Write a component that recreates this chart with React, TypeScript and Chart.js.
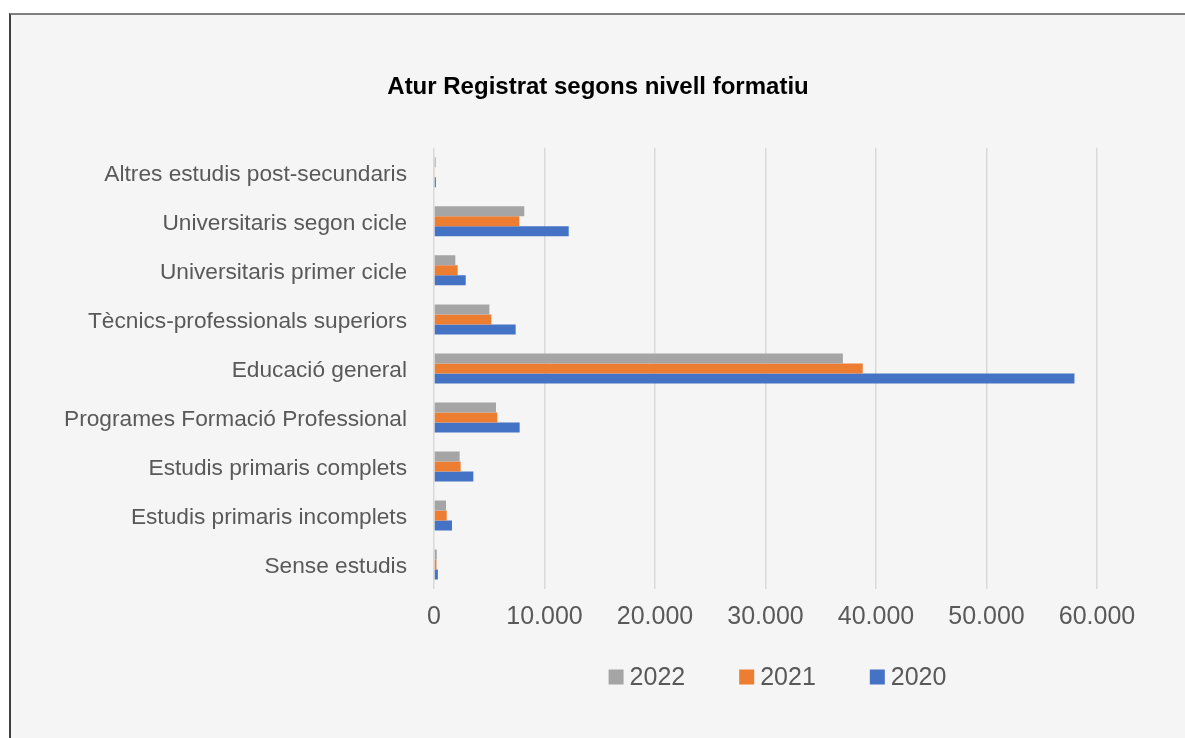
import React, { useEffect, useRef } from "react";
import { Chart, registerables } from "chart.js";

Chart.register(...registerables);

const categories = [
  "Altres estudis post-secundaris",
  "Universitaris segon cicle",
  "Universitaris primer cicle",
  "Tècnics-professionals superiors",
  "Educació general",
  "Programes Formació Professional",
  "Estudis primaris complets",
  "Estudis primaris incomplets",
  "Sense estudis",
];

const values2022 = [150, 8170, 1930, 5010, 37000, 5610, 2320, 1090, 250];
const values2021 = [60, 7720, 2140, 5190, 38800, 5730, 2410, 1150, 220];
const values2020 = [170, 12190, 2870, 7390, 57960, 7750, 3560, 1630, 350];

const seriesLabels = ["2022", "2021", "2020"];
const seriesColors = ["#A5A5A5", "#ED7D31", "#4472C4"];

const xMin = 0;
const xMax = 60000;
const xStep = 10000;

const TEXT = "#595959";
const FONT = '"Liberation Sans", Arial, Helvetica, sans-serif';

function formatThousands(v: number): string {
  return String(Math.round(v)).replace(/\B(?=(\d{3})+(?!\d))/g, ".");
}

const legendPlugin = {
  id: "customLegend",
  afterDraw(chart: any) {
    const ctx = chart.ctx as CanvasRenderingContext2D;
    const area = chart.chartArea;
    const datasets = chart.data.datasets;
    const box = 15;
    const textGap = 6;
    const itemGap = 54;
    ctx.save();
    ctx.font = `25px ${FONT}`;
    ctx.textBaseline = "middle";
    ctx.textAlign = "left";
    const widths = datasets.map((d: any) => box + textGap + ctx.measureText(d.label).width);
    const total = widths.reduce((a: number, b: number) => a + b, 0) + itemGap * (datasets.length - 1);
    const cx = (area.left + area.right) / 2 + 12;
    const cy = area.bottom + 88;
    let x = cx - total / 2;
    datasets.forEach((d: any, i: number) => {
      ctx.fillStyle = d.backgroundColor;
      ctx.fillRect(x, cy - box / 2, box, box);
      ctx.fillStyle = TEXT;
      ctx.fillText(d.label, x + box + textGap, cy + 1);
      x += widths[i] + itemGap;
    });
    ctx.restore();
  },
};

export default function App() {
  const canvasRef = useRef<HTMLCanvasElement | null>(null);

  useEffect(() => {
    if (!canvasRef.current) return;
    const seriesValues = [values2022, values2021, values2020];
    const chart = new Chart(canvasRef.current, {
      type: "bar",
      data: {
        labels: categories,
        datasets: seriesLabels.map((label, i) => ({
          label,
          data: seriesValues[i],
          backgroundColor: seriesColors[i],
          borderWidth: 0,
          barPercentage: 1,
          categoryPercentage: 0.612,
        })),
      },
      options: {
        indexAxis: "y",
        responsive: false,
        devicePixelRatio: 1,
        animation: false,
        layout: { padding: { left: 44, right: 44, top: 0, bottom: 93 } },
        plugins: {
          legend: { display: false },
          tooltip: { enabled: false },
          title: {
            display: true,
            text: "Atur Registrat segons nivell formatiu",
            color: "#000000",
            font: { family: FONT, size: 24, weight: "bold" },
            padding: { top: 58, bottom: 46 },
          },
        },
        scales: {
          x: {
            min: xMin,
            max: xMax,
            border: { display: false },
            grid: { color: "#D9D9D9", lineWidth: 1.5, drawTicks: false },
            ticks: {
              stepSize: xStep,
              padding: 13,
              color: TEXT,
              font: { family: FONT, size: 25 },
              callback: (v: any) => formatThousands(Number(v)),
            },
          },
          y: {
            border: { display: false },
            grid: { display: false, drawTicks: false },
            ticks: {
              padding: 27,
              labelOffset: 2,
              color: TEXT,
              font: { family: FONT, size: 22.7 },
            },
            afterFit: (scale: any) => {
              scale.width = 379;
            },
          },
          ySpacer: {
            type: "linear",
            position: "right",
            display: true,
            border: { display: false },
            grid: { display: false, drawTicks: false },
            ticks: { display: false },
            afterFit: (scale: any) => {
              scale.width = 44;
            },
          },
        },
      },
      plugins: [legendPlugin],
    });
    return () => chart.destroy();
  }, []);

  return (
    <div
      style={{
        position: "absolute",
        left: 9,
        top: 13,
        width: 1176,
        height: 725,
        boxSizing: "border-box",
        background: "#F5F5F5",
        borderTop: "2px solid #7F7F7F",
        borderLeft: "2px solid #404040",
      }}
    >
      <canvas ref={canvasRef} width={1174} height={723} style={{ display: "block" }} />
    </div>
  );
}
